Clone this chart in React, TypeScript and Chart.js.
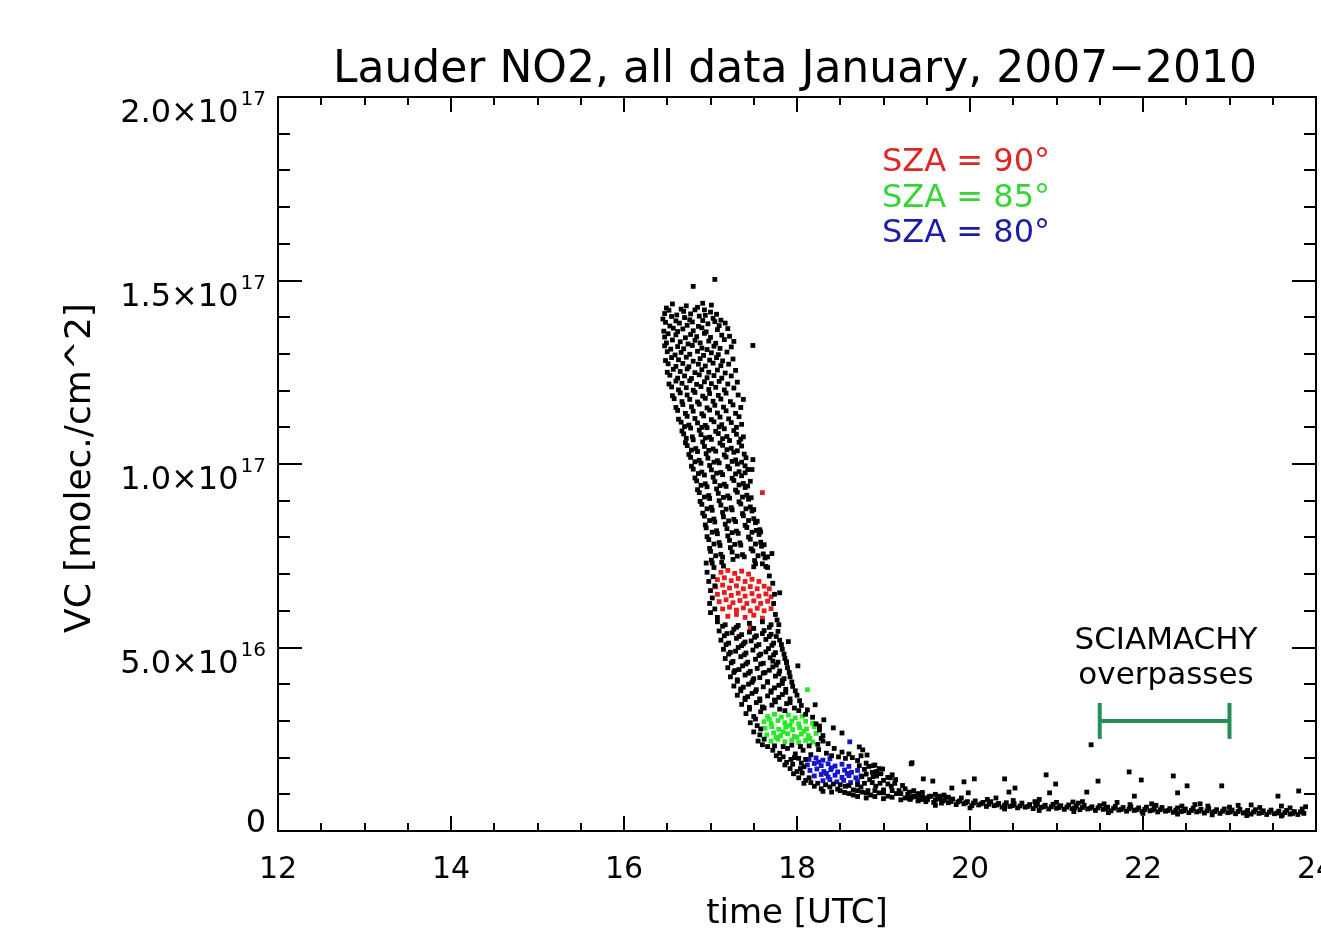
import React, { useEffect, useRef } from "react";
import { Chart, registerables } from "chart.js";

Chart.register(...registerables);

// ---------- text ----------
const TITLE = "Lauder NO2, all data January, 2007\u22122010";
const X_TITLE = "time [UTC]";
const Y_TITLE = "VC [molec./cm^2]";
const LEGEND_LINES: [string, string][] = [
  ["SZA = 90\u00b0", "rgb(222,38,38)"],
  ["SZA = 85\u00b0", "rgb(52,214,52)"],
  ["SZA = 80\u00b0", "rgb(28,28,170)"],
];
const NOTE_LINES = ["SCIAMACHY", "overpasses"];

// ---------- axes (x: hours UTC, y: units of 1e16 molec./cm^2) ----------
const X_MIN = 12;
const X_MAX = 24;
const X_MAJOR = 2;
const X_MINOR = 0.5;
const X_TICK_LABELS = ["12", "14", "16", "18", "20", "22", "24"];
const Y_MIN = 0;
const Y_MAX = 20;
const Y_MAJOR = 5;
const Y_MINOR = 1;
const Y_TICK_LABELS: [number, string, string][] = [
  [0, "0", ""],
  [5, "5.0\u00d710", "16"],
  [10, "1.0\u00d710", "17"],
  [15, "1.5\u00d710", "17"],
  [20, "2.0\u00d710", "17"],
];

// ---------- SCIAMACHY overpass window ----------
const OVERPASS_X = [21.5, 23.0];
const OVERPASS_Y = 3.0;

// ---------- data: [time UTC, VC / 1e16] ----------
const upperOutliers: [number, number][] = [
  [16.8,14.84],[17.05,15.03],[16.91,14.38],[17.49,13.23],[17.27,13.34],[17.38,11.76],[17.49,10.12],[17.48,9.85],[17.57,8.21],[17.71,7.56],
];

const upperCloud: [number, number][] = [
  [16.49,14.25],[16.56,14.36],[16.66,14.22],[16.72,14.31],[16.85,14.27],[16.93,14.2],[17.01,14.33],
  [16.47,14.1],[16.52,14.19],[16.61,14.06],[16.69,14.16],[16.77,14.09],[16.82,14.2],[16.94,14.05],[17.0,14.14],[17.07,14.08],
  [16.45,13.95],[16.55,14.02],[16.6,13.9],[16.7,13.99],[16.76,13.93],[16.87,14.03],[16.91,13.91],[17.03,13.97],[17.12,13.92],
  [16.48,13.86],[16.53,13.76],[16.64,13.84],[16.73,13.78],[16.79,13.87],[16.86,13.75],[16.97,13.82],[17.05,13.88],[17.1,13.77],[17.17,13.84],
  [16.46,13.62],[16.57,13.7],[16.62,13.61],[16.68,13.68],[16.8,13.63],[16.9,13.71],[16.95,13.6],[17.08,13.66],[17.2,13.69],
  [16.47,13.46],[16.51,13.55],[16.6,13.52],[16.71,13.44],[16.77,13.53],[16.84,13.47],[16.93,13.56],[17.0,13.45],[17.13,13.51],[17.22,13.48],
  [16.49,13.3],[16.56,13.38],[16.65,13.33],[16.74,13.27],[16.82,13.37],[16.88,13.3],[16.98,13.35],[17.06,13.29],[17.16,13.39],
  [16.47,13.22],[16.54,13.13],[16.62,13.2],[16.69,13.14],[16.79,13.23],[16.9,13.16],[16.96,13.12],[17.04,13.21],[17.11,13.15],[17.24,13.19],
  [16.5,13.06],[16.59,12.97],[16.66,13.04],[16.76,12.99],[16.85,13.07],[16.92,12.96],[17.01,13.03],[17.09,12.98],[17.19,13.05],
  [16.48,12.82],[16.55,12.9],[16.63,12.84],[16.72,12.91],[16.8,12.8],[16.88,12.87],[16.99,12.83],[17.07,12.9],[17.14,12.81],[17.26,12.86],
  [16.51,12.73],[16.6,12.66],[16.68,12.74],[16.75,12.65],[16.86,12.72],[16.94,12.67],[17.03,12.75],[17.12,12.68],[17.21,12.72],
  [16.5,12.5],[16.57,12.58],[16.65,12.52],[16.73,12.59],[16.82,12.49],[16.9,12.57],[16.98,12.5],[17.08,12.56],[17.17,12.48],[17.29,12.55],
  [16.53,12.42],[16.62,12.34],[16.7,12.4],[16.78,12.33],[16.87,12.43],[16.96,12.35],[17.04,12.41],[17.13,12.34],[17.24,12.4],
  [16.52,12.18],[16.6,12.26],[16.67,12.2],[16.76,12.27],[16.84,12.17],[16.93,12.24],[17.01,12.19],[17.1,12.25],[17.2,12.18],[17.31,12.23],
  [16.55,12.1],[16.63,12.02],[16.72,12.08],[16.8,12.01],[16.89,12.11],[16.98,12.03],[17.06,12.09],[17.16,12.02],[17.27,12.07],
  [16.56,11.86],[16.65,11.94],[16.73,11.88],[16.82,11.95],[16.91,11.85],[16.99,11.92],[17.09,11.87],[17.18,11.93],[17.32,11.88],
  [16.58,11.78],[16.67,11.7],[16.76,11.76],[16.85,11.69],[16.94,11.79],[17.03,11.71],[17.12,11.77],[17.23,11.7],
  [16.6,11.54],[16.68,11.62],[16.78,11.56],[16.87,11.63],[16.96,11.53],[17.05,11.6],[17.15,11.55],[17.26,11.61],[17.35,11.54],
  [16.62,11.46],[16.71,11.38],[16.8,11.44],[16.9,11.37],[16.99,11.47],[17.08,11.39],[17.18,11.45],[17.29,11.38],
  [16.63,11.22],[16.73,11.3],[16.82,11.24],[16.92,11.31],[17.01,11.21],[17.11,11.28],[17.21,11.23],[17.33,11.29],
  [16.66,11.14],[16.75,11.06],[16.85,11.12],[16.94,11.05],[17.04,11.15],[17.13,11.07],[17.24,11.13],[17.36,11.08],
  [16.67,10.9],[16.77,10.98],[16.87,10.92],[16.96,10.99],[17.06,10.89],[17.16,10.96],[17.27,10.91],
  [16.69,10.82],[16.79,10.74],[16.89,10.8],[16.99,10.73],[17.09,10.83],[17.19,10.75],[17.3,10.81],[17.38,10.74],
  [16.71,10.58],[16.8,10.66],[16.91,10.6],[17.01,10.67],[17.11,10.57],[17.22,10.64],[17.33,10.59],
  [16.73,10.5],[16.83,10.42],[16.93,10.48],[17.03,10.41],[17.14,10.51],[17.24,10.43],[17.36,10.49],
  [16.75,10.26],[16.85,10.34],[16.95,10.28],[17.06,10.35],[17.16,10.25],[17.27,10.32],[17.39,10.27],
  [16.77,10.18],[16.87,10.1],[16.97,10.16],[17.08,10.09],[17.18,10.19],[17.29,10.11],[17.41,10.17],
  [16.78,9.94],[16.89,10.02],[16.99,9.96],[17.1,10.03],[17.2,9.93],[17.31,10.0],[17.4,9.95],
  [16.8,9.86],[16.9,9.78],[17.01,9.84],[17.12,9.77],[17.22,9.87],[17.33,9.79],[17.43,9.85],
  [16.82,9.62],[16.93,9.7],[17.03,9.64],[17.14,9.71],[17.25,9.61],[17.36,9.68],
  [16.84,9.54],[16.94,9.46],[17.05,9.52],[17.16,9.45],[17.27,9.55],[17.38,9.47],[17.46,9.53],
  [16.85,9.3],[16.96,9.38],[17.07,9.32],[17.18,9.39],[17.29,9.29],[17.4,9.36],
  [16.87,9.22],[16.98,9.14],[17.09,9.2],[17.2,9.13],[17.31,9.23],[17.42,9.15],
  [16.88,8.98],[16.99,9.06],[17.1,9.0],[17.22,9.07],[17.33,8.97],[17.44,9.04],
  [16.9,8.9],[17.01,8.82],[17.12,8.88],[17.24,8.81],[17.35,8.91],[17.46,8.83],
  [16.91,8.66],[17.02,8.74],[17.14,8.68],[17.25,8.75],[17.37,8.65],[17.48,8.72],
  [16.93,8.58],[17.04,8.5],[17.15,8.56],[17.27,8.49],[17.38,8.59],[17.5,8.51],
  [16.94,8.34],[17.05,8.42],[17.17,8.36],[17.29,8.43],[17.4,8.33],[17.52,8.4],
  [16.95,8.26],[17.07,8.18],[17.19,8.24],[17.3,8.17],[17.42,8.27],[17.53,8.19],
  [16.96,8.02],[17.08,8.1],[17.2,8.04],[17.32,8.11],[17.44,8.01],[17.56,8.08],
  [16.98,7.94],[17.1,7.86],[17.22,7.92],[17.34,7.85],[17.46,7.95],[17.58,7.87],
  [16.99,7.7],[17.11,7.78],[17.23,7.72],[17.35,7.79],[17.47,7.69],[17.59,7.76],
  [17.0,7.62],[17.12,7.54],[17.25,7.6],[17.37,7.53],[17.49,7.63],[17.61,7.55],
  [17.01,7.38],[17.14,7.46],[17.26,7.4],[17.39,7.47],[17.51,7.37],[17.63,7.44],
  [17.02,7.3],[17.15,7.22],[17.52,7.28],[17.64,7.21],
];

const upperGapFill: [number, number][] = [
  [16.7,11.02],[16.9,11.0],[17.1,11.01],[17.3,11.0],
  [16.72,10.7],[16.94,10.71],[17.14,10.69],[17.35,10.68],
  [16.78,10.38],[16.98,10.37],[17.19,10.39],[17.31,10.36],
  [16.82,10.06],[17.04,10.05],[17.25,10.07],[17.36,10.05],
  [16.86,9.74],[17.07,9.75],[17.29,9.73],[17.4,9.76],
  [16.89,9.42],[17.11,9.41],[17.33,9.43],[17.43,9.4],
  [16.93,9.1],[17.15,9.09],[17.37,9.1],[17.47,9.08],
  [16.96,8.78],[17.18,8.77],[17.41,8.78],[17.5,8.76],
  [16.99,8.46],[17.21,8.45],[17.44,8.46],[17.54,8.44],
  [17.02,8.14],[17.25,8.13],[17.48,8.14],[17.58,8.15],
  [17.04,7.82],[17.28,7.81],[17.52,7.82],[17.62,7.8],
  [17.06,7.5],[17.31,7.49],[17.55,7.5],[17.66,7.47],
];

const middleCloud: [number, number][] = [
  [16.95,7.3],[17.04,7.18],[17.13,7.32],[17.5,7.2],[17.6,7.28],[17.66,7.18],
  [16.96,7.05],[17.03,6.93],[17.68,6.95],
  [16.98,6.8],[17.05,6.68],[17.72,6.75],
  [17.0,6.55],[17.02,6.35],[17.74,6.45],
  [16.99,6.2],[17.05,6.05],[17.73,6.2],
  [17.0,5.95],[17.08,5.82],[17.75,5.9],
  [17.8,6.49],[17.79,5.62],[17.9,5.16],[17.88,4.61],[18.01,4.5],
  [17.08,5.7],[17.17,5.62],[17.3,5.55],[17.45,5.66],[17.6,5.7],[17.7,5.62],[17.77,5.75],
  [17.1,5.45],[17.19,5.38],[17.27,5.5],[17.36,5.35],[17.45,5.42],[17.53,5.32],[17.62,5.46],[17.7,5.36],[17.78,5.44],
  [17.12,5.2],[17.21,5.12],[17.3,5.25],[17.38,5.1],[17.47,5.18],[17.56,5.08],[17.64,5.22],[17.73,5.12],[17.8,5.2],
  [17.15,4.95],[17.23,4.87],[17.32,5.0],[17.41,4.85],[17.49,4.93],[17.58,4.82],[17.67,4.97],[17.75,4.86],[17.83,4.95],
  [17.17,4.7],[17.26,4.62],[17.35,4.75],[17.43,4.6],[17.52,4.68],[17.61,4.57],[17.69,4.72],[17.78,4.6],[17.86,4.7],
  [17.2,4.45],[17.28,4.37],[17.37,4.5],[17.46,4.35],[17.54,4.43],[17.63,4.32],[17.72,4.47],[17.8,4.36],[17.89,4.45],
  [17.23,4.2],[17.31,4.12],[17.4,4.25],[17.49,4.1],[17.57,4.18],[17.66,4.07],[17.75,4.22],[17.83,4.1],[17.92,4.2],
  [17.27,3.95],[17.35,3.87],[17.44,4.0],[17.53,3.85],[17.61,3.93],[17.7,3.82],[17.79,3.97],[17.87,3.86],[17.95,3.94],
  [17.31,3.7],[17.4,3.62],[17.48,3.75],[17.57,3.6],[17.66,3.68],[17.74,3.57],[17.83,3.72],[17.92,3.6],[18.0,3.7],
  [17.36,3.45],[17.45,3.37],[17.53,3.5],[17.62,3.35],[17.71,3.43],[17.8,3.32],[17.88,3.47],[17.97,3.35],[18.05,3.42],
  [17.14,5.58],[17.32,5.6],[17.5,5.52],[17.68,5.55],
  [17.16,5.32],[17.33,5.3],[17.51,5.28],[17.68,5.3],[17.76,5.3],
  [17.18,5.08],[17.36,5.05],[17.53,5.04],[17.71,5.06],[17.82,5.08],
  [17.21,4.82],[17.39,4.8],[17.56,4.78],[17.73,4.8],[17.85,4.82],
  [17.24,4.58],[17.41,4.55],[17.58,4.55],[17.76,4.52],[17.88,4.58],
  [17.27,4.32],[17.44,4.3],[17.61,4.3],[17.79,4.28],[17.91,4.32],
  [17.31,4.08],[17.48,4.05],[17.66,4.05],[17.83,4.02],[17.94,4.06],
  [17.35,3.82],[17.52,3.8],[17.7,3.78],[17.87,3.78],[17.98,3.82],
  [17.4,3.58],[17.57,3.55],[17.75,3.52],[17.92,3.5],[18.03,3.55],
  [17.45,3.32],[17.6,3.38],[17.86,3.28],[18.02,3.28],[18.12,3.3],
  [17.25,5.4],[17.6,5.38],[17.29,4.9],[17.64,4.88],[17.33,4.4],[17.68,4.38],[17.38,3.92],[17.74,3.9],
  [17.43,3.66],[17.79,3.64],[17.4,5.15],[17.72,4.63],[17.5,4.15],[17.85,4.15],
];

const lowerCloud: [number, number][] = [
  [17.41,3.2],[17.5,3.12],[17.58,3.25],[18.1,3.18],[18.18,3.1],
  [17.46,2.95],[17.54,2.87],[18.22,2.92],
  [17.5,2.7],[17.57,2.62],[18.26,2.75],[18.3,2.6],
  [17.55,2.45],[17.6,2.35],[18.3,2.45],[18.36,2.38],
  [18.21,3.44],[18.31,3.03],[18.42,2.81],[18.52,2.67],[18.72,2.29],[18.81,2.07],[18.9,1.8],[18.99,1.69],[19.1,1.53],[19.33,1.86],[19.46,1.42],[18.76,2.21],
  [17.72,2.2],[17.8,2.12],[17.89,2.25],[17.98,2.1],[18.07,2.2],[18.16,2.08],[18.25,2.22],[18.34,2.12],[18.43,2.25],[18.52,2.15],[18.6,2.1],
  [17.8,1.95],[17.88,1.87],[17.97,2.0],[18.05,1.85],[18.1,1.95],[18.7,1.92],[18.8,1.85],[18.88,1.78],
  [17.92,1.7],[18.0,1.62],[18.08,1.75],[18.78,1.68],[18.87,1.6],[18.95,1.7],
  [18.02,1.45],[18.1,1.38],[18.75,1.48],[18.84,1.4],[18.92,1.5],[19.0,1.38],[19.08,1.45],
  [18.2,1.22],[18.28,1.15],[18.38,1.2],[18.47,1.14],[18.56,1.22],[18.65,1.12],[18.74,1.2],[18.82,1.1],[18.91,1.22],[19.0,1.12],[19.09,1.22],[19.18,1.1],
  [18.55,1.05],[18.65,0.98],[18.75,1.06],[18.85,0.98],[18.95,1.04],[19.05,0.95],[19.15,1.02],[19.25,0.9],[19.35,0.95],[19.45,0.86],
  [19.25,1.15],[19.35,1.1],[19.45,1.05],[19.6,1.0],[19.7,0.98],
  [17.52,3.05],[17.58,2.78],[17.62,2.5],[17.66,2.3],[17.74,2.32],[17.84,2.3],[17.94,2.34],[18.04,2.3],[18.14,2.32],[18.24,2.36],[18.28,2.52],[18.26,2.86],
  [17.76,2.05],[17.84,2.02],[17.93,1.95],[18.02,1.98],[18.4,2.05],[18.48,2.02],[18.56,1.98],[18.64,2.0],[18.74,2.05],
  [17.86,1.8],[17.95,1.82],[18.04,1.7],[18.72,1.78],[18.83,1.76],[18.92,1.62],
  [17.96,1.56],[18.06,1.58],[18.14,1.45],[18.8,1.55],[18.88,1.48],[18.97,1.56],[19.05,1.46],[19.14,1.4],
  [18.08,1.3],[18.16,1.32],[18.24,1.3],[18.33,1.26],[18.42,1.28],[18.5,1.26],[18.6,1.24],[18.7,1.26],[18.78,1.3],[18.87,1.32],[18.96,1.3],[19.05,1.28],[19.13,1.3],[19.22,1.24],
  [18.3,1.08],[18.4,1.06],[18.5,1.1],[18.6,1.02],[18.7,1.1],[18.8,1.04],[18.9,1.1],[19.0,1.04],[19.1,1.1],[19.2,1.02],[19.3,1.06],[19.4,0.98],
  [18.7,0.94],[18.8,0.9],[18.9,0.94],[19.0,0.88],[19.1,0.92],[19.2,0.85],[19.3,0.88],[19.4,0.84],[19.5,0.9],[19.55,0.95],[19.65,0.88],[19.75,0.92],
];

const tailBand: [number, number][] = [
  [19.28,1.0],[19.31,0.86],[19.36,0.95],[19.4,0.82],[19.45,0.92],[19.49,0.8],[19.53,0.94],[19.58,0.78],
  [19.62,0.88],[19.67,0.76],[19.71,0.86],[19.75,0.77],[19.8,0.87],[19.84,0.72],[19.88,0.82],[19.93,0.74],
  [19.97,0.8],[20.02,0.69],[20.06,0.82],[20.1,0.71],[20.15,0.78],[20.19,0.67],[20.24,0.8],[20.28,0.69],
  [20.33,0.75],[20.37,0.65],[20.42,0.77],[20.46,0.67],[20.51,0.74],[20.55,0.63],[20.6,0.76],[20.64,0.65],
  [20.69,0.72],[20.73,0.61],[20.78,0.74],[20.82,0.64],[20.87,0.7],[20.91,0.6],[20.96,0.73],[21.0,0.62],
  [21.05,0.69],[21.09,0.59],[21.14,0.71],[21.18,0.61],[21.23,0.68],[21.27,0.58],[21.32,0.7],[21.36,0.6],
  [21.41,0.66],[21.45,0.56],[21.5,0.69],[21.54,0.59],[21.59,0.65],[21.63,0.55],[21.68,0.67],[21.72,0.57],
  [21.77,0.64],[21.81,0.54],[21.86,0.66],[21.9,0.56],[21.95,0.63],[21.99,0.53],[22.04,0.65],[22.08,0.55],
  [22.13,0.62],[22.17,0.52],[22.22,0.64],[22.26,0.54],[22.31,0.61],[22.35,0.51],[22.4,0.63],[22.44,0.53],
  [22.49,0.6],[22.53,0.5],[22.58,0.62],[22.62,0.52],[22.67,0.59],[22.71,0.49],[22.76,0.61],[22.8,0.51],
  [22.85,0.58],[22.89,0.48],[22.94,0.6],[22.98,0.5],[23.03,0.57],[23.07,0.47],[23.12,0.59],[23.16,0.49],
  [23.21,0.56],[23.25,0.46],[23.3,0.58],[23.34,0.48],[23.39,0.55],[23.43,0.45],[23.48,0.57],[23.52,0.47],
  [23.57,0.54],[23.61,0.44],[23.66,0.56],[23.7,0.46],[23.75,0.53],[23.79,0.45],[23.84,0.6],[23.86,0.48],[23.88,0.66],
  [20.3,0.9],[20.8,0.86],[21.3,0.8],[21.7,0.78],[22.1,0.74],[22.6,0.72],[23.1,0.7],[23.6,0.68],
];

const tailFill: [number, number][] = [
  [19.33,0.92],[19.42,0.88],[19.51,0.86],[19.6,0.84],[19.69,0.82],[19.78,0.8],[19.86,0.79],[19.95,0.77],
  [20.04,0.76],[20.13,0.74],[20.22,0.73],[20.31,0.71],[20.4,0.71],[20.49,0.69],[20.58,0.68],[20.67,0.67],
  [20.76,0.68],[20.85,0.66],[20.94,0.66],[21.03,0.64],[21.12,0.65],[21.21,0.63],[21.3,0.64],[21.39,0.62],
  [21.48,0.63],[21.57,0.61],[21.66,0.62],[21.75,0.59],[21.84,0.6],[21.93,0.58],[22.02,0.59],[22.11,0.57],
  [22.2,0.58],[22.29,0.56],[22.38,0.57],[22.47,0.55],[22.56,0.56],[22.65,0.54],[22.74,0.55],[22.83,0.53],
  [22.92,0.54],[23.01,0.52],[23.1,0.53],[23.19,0.51],[23.28,0.52],[23.37,0.5],[23.46,0.51],[23.55,0.49],
  [23.64,0.5],[23.73,0.48],[23.82,0.52],
  [19.4,1.02],[19.65,0.95],[19.9,0.9],[20.2,0.86],[20.5,0.83],[20.75,0.8],[21.0,0.78],[21.25,0.76],
  [21.55,0.74],[21.85,0.72],[22.15,0.7],[22.45,0.68],[22.75,0.68],[23.0,0.65],[23.35,0.64],[23.7,0.63],
  [19.6,0.7],[20.0,0.63],[20.4,0.6],[20.8,0.56],[21.2,0.53],[21.6,0.5],[22.0,0.48],[22.4,0.46],
  [22.8,0.44],[23.2,0.42],[23.6,0.41],
];

const tailOutliers: [number, number][] = [
  [19.32,1.83],[19.57,1.36],[19.79,1.17],[19.93,1.34],[20.05,1.42],[19.98,1.04],[20.4,1.42],[20.45,1.06],
  [20.52,1.17],[20.88,1.53],[20.99,1.28],[20.92,1.04],[21.19,0.79],[21.35,1.06],[21.4,2.35],[21.48,1.36],
  [21.84,1.61],[21.98,1.39],[21.9,0.95],[22.35,1.5],[22.51,1.23],[22.4,1.04],[22.91,1.23],[22.66,0.74],
  [23.25,0.71],[23.56,0.95],[23.8,1.09],
];

const redPts: [number, number][] = [
  [17.12,7.05],[17.2,7.1],[17.28,7.02],[17.36,7.08],[17.44,7.0],
  [17.08,6.85],[17.16,6.9],[17.24,6.82],[17.32,6.88],[17.4,6.8],[17.48,6.86],[17.56,6.8],
  [17.06,6.65],[17.14,6.7],[17.22,6.62],[17.3,6.68],[17.38,6.6],[17.46,6.66],[17.54,6.6],[17.62,6.67],[17.68,6.6],
  [17.08,6.45],[17.16,6.5],[17.24,6.42],[17.32,6.48],[17.4,6.4],[17.48,6.47],[17.56,6.4],[17.64,6.46],[17.7,6.38],
  [17.1,6.25],[17.18,6.3],[17.26,6.22],[17.34,6.28],[17.42,6.2],[17.5,6.27],[17.58,6.2],[17.66,6.26],
  [17.14,6.05],[17.22,6.1],[17.3,6.02],[17.38,6.08],[17.46,6.0],[17.54,6.07],[17.62,6.0],[17.7,6.06],
  [17.2,5.85],[17.3,5.9],[17.4,5.82],[17.5,5.88],[17.6,5.8],[17.46,5.54],[17.6,9.22],
];

const greenPts: [number, number][] = [
  [17.66,3.12],[17.74,3.18],[17.82,3.1],[17.9,3.16],[17.98,3.08],[18.06,3.13],
  [17.62,2.98],[17.7,2.93],[17.78,3.01],[17.86,2.95],[17.94,3.0],[18.02,2.92],[18.1,2.99],[18.18,2.94],
  [17.63,2.8],[17.71,2.84],[17.79,2.77],[17.87,2.83],[17.95,2.76],[18.03,2.82],[18.11,2.78],[18.2,2.84],
  [17.65,2.62],[17.73,2.67],[17.81,2.6],[17.89,2.65],[17.97,2.58],[18.05,2.64],[18.13,2.6],[18.22,2.66],
  [17.7,2.45],[17.78,2.5],[17.86,2.43],[17.94,2.48],[18.02,2.41],[18.1,2.47],[18.18,2.42],
  [17.68,3.05],[17.84,2.7],[18.0,2.55],[17.76,2.55],[17.92,2.88],[18.08,2.72],[18.15,2.52],[18.12,3.85],
];

const bluePts: [number, number][] = [
  [18.14,1.95],[18.22,1.99],[18.3,1.93],[18.38,1.97],
  [18.12,1.8],[18.2,1.84],[18.28,1.78],[18.36,1.83],[18.44,1.77],[18.52,1.82],[18.6,1.76],
  [18.15,1.65],[18.23,1.69],[18.31,1.62],[18.39,1.67],[18.47,1.61],[18.55,1.66],[18.63,1.6],[18.7,1.65],
  [18.2,1.5],[18.28,1.54],[18.36,1.47],[18.44,1.52],[18.52,1.46],[18.6,1.51],[18.68,1.45],[18.74,1.5],
  [18.3,1.37],[18.38,1.4],[18.46,1.34],[18.54,1.38],[18.62,1.32],[18.7,1.36],
  [18.25,1.88],[18.4,1.72],[18.58,1.57],[18.34,1.57],[18.61,2.43],
];

const COLORS = {
  black: "#000000",
  red: "rgb(232,28,28)",
  green: "rgb(40,232,40)",
  blue: "rgb(20,20,205)",
  overpass: "rgb(38,140,88)",
};

const FONT = "'DejaVu Sans', sans-serif";

const toXY = (arr: [number, number][]) => arr.map(([x, y]) => ({ x, y }));

const decorPlugin = {
  id: "decor",
  afterDraw(chart: any) {
    const { ctx, chartArea } = chart;
    const { left, right, top, bottom } = chartArea;
    const xs = chart.scales.x;
    const ys = chart.scales.y;
    ctx.save();
    ctx.strokeStyle = "#000";
    ctx.lineWidth = 2;
    ctx.strokeRect(left, top, right - left, bottom - top);
    ctx.beginPath();
    for (let v = X_MIN; v <= X_MAX + 1e-9; v += X_MINOR) {
      const px = Math.round(xs.getPixelForValue(v));
      const major = Math.abs(v / X_MAJOR - Math.round(v / X_MAJOR)) < 1e-6;
      const len = major ? 15 : 8;
      ctx.moveTo(px, bottom);
      ctx.lineTo(px, bottom - len);
      ctx.moveTo(px, top);
      ctx.lineTo(px, top + len);
    }
    for (let v = Y_MIN; v <= Y_MAX + 1e-9; v += Y_MINOR) {
      const py = Math.round(ys.getPixelForValue(v));
      const major = Math.abs(v / Y_MAJOR - Math.round(v / Y_MAJOR)) < 1e-6;
      const len = major ? 24 : 12;
      ctx.moveTo(left, py);
      ctx.lineTo(left + len, py);
      ctx.moveTo(right, py);
      ctx.lineTo(right - len, py);
    }
    ctx.stroke();

    ctx.fillStyle = "#000";
    // x tick labels
    ctx.textAlign = "center";
    ctx.textBaseline = "middle";
    ctx.font = `30px ${FONT}`;
    X_TICK_LABELS.forEach((lab, i) => {
      ctx.fillText(lab, xs.getPixelForValue(X_MIN + i * X_MAJOR), 870);
    });

    // y tick labels with superscript exponent
    for (const [val, base, exp] of Y_TICK_LABELS) {
      const py = ys.getPixelForValue(val);
      const rightEdge = left - 12;
      ctx.textBaseline = "alphabetic";
      ctx.textAlign = "right";
      if (!exp) {
        ctx.font = `32px ${FONT}`;
        ctx.fillText(base, rightEdge, py + 1);
      } else {
        ctx.font = `20px ${FONT}`;
        const ew = ctx.measureText(exp).width;
        ctx.fillText(exp, rightEdge, py + 8);
        ctx.font = `32px ${FONT}`;
        ctx.fillText(base, rightEdge - ew - 2, py + 25);
      }
    }

    // title
    ctx.textAlign = "center";
    ctx.textBaseline = "alphabetic";
    ctx.font = `44px ${FONT}`;
    ctx.fillText(TITLE, 795, 82);

    // x axis title
    ctx.font = `34px ${FONT}`;
    ctx.fillText(X_TITLE, (left + right) / 2, 923);

    // y axis title
    ctx.save();
    ctx.translate(81, 468);
    ctx.rotate(-Math.PI / 2);
    ctx.textBaseline = "middle";
    ctx.font = `36px ${FONT}`;
    ctx.fillText(Y_TITLE, 0, 0);
    ctx.restore();

    // SZA legend
    ctx.textAlign = "left";
    ctx.font = `32px ${FONT}`;
    LEGEND_LINES.forEach(([txt, col], i) => {
      ctx.fillStyle = col;
      ctx.fillText(txt, 882, 171 + i * 35.5);
    });

    // SCIAMACHY note
    ctx.fillStyle = "#000";
    ctx.textAlign = "center";
    ctx.font = `31px ${FONT}`;
    ctx.fillText(NOTE_LINES[0], 1166, 649);
    ctx.fillText(NOTE_LINES[1], 1166, 684);
    ctx.restore();
  },
};

export default function App() {
  const ref = useRef<HTMLCanvasElement | null>(null);
  useEffect(() => {
    if (!ref.current) return;
    const pointDs = (label: string, pts: [number, number][], color: string) => ({
      label,
      data: toXY(pts),
      pointStyle: "rect",
      pointRadius: 3.4,
      pointBorderWidth: 0,
      backgroundColor: color,
      borderColor: color,
      showLine: false,
    });
    const blackAll = [
      ...upperOutliers, ...upperCloud, ...upperGapFill, ...middleCloud, ...lowerCloud,
      ...tailBand, ...tailFill, ...tailOutliers,
    ];
    const chart = new Chart(ref.current, {
      type: "scatter",
      data: {
        datasets: [
          pointDs("all data", blackAll, COLORS.black),
          pointDs("SZA = 90", redPts, COLORS.red),
          pointDs("SZA = 85", greenPts, COLORS.green),
          pointDs("SZA = 80", bluePts, COLORS.blue),
          {
            label: "SCIAMACHY overpasses",
            data: OVERPASS_X.map((x) => ({ x, y: OVERPASS_Y })),
            showLine: true,
            borderColor: COLORS.overpass,
            borderWidth: 4,
            pointStyle: "line",
            rotation: 90,
            pointRadius: 18,
            pointBorderWidth: 4,
            pointBorderColor: COLORS.overpass,
            backgroundColor: COLORS.overpass,
          } as any,
        ],
      },
      options: {
        animation: false,
        responsive: false,
        maintainAspectRatio: false,
        events: [],
        layout: { autoPadding: false, padding: { top: 97, right: 5, left: 0, bottom: 0 } },
        plugins: {
          legend: { display: false },
          tooltip: { enabled: false },
          title: { display: false },
        },
        scales: {
          x: {
            type: "linear",
            position: "bottom",
            min: X_MIN,
            max: X_MAX,
            afterFit: (s: any) => {
              s.height = 101;
            },
            grid: { display: false },
            border: { display: false },
            ticks: { display: false, stepSize: X_MAJOR },
          },
          y: {
            type: "linear",
            min: Y_MIN,
            max: Y_MAX,
            afterFit: (s: any) => {
              s.width = 278;
            },
            grid: { display: false },
            border: { display: false },
            ticks: { display: false, stepSize: Y_MAJOR },
          },
        },
      } as any,
      plugins: [decorPlugin],
    });
    return () => chart.destroy();
  }, []);
  return (
    <div style={{ position: "absolute", left: 0, top: 0, width: 1321, height: 932, background: "#fff" }}>
      <canvas ref={ref} width={1321} height={932} style={{ display: "block" }} />
    </div>
  );
}
